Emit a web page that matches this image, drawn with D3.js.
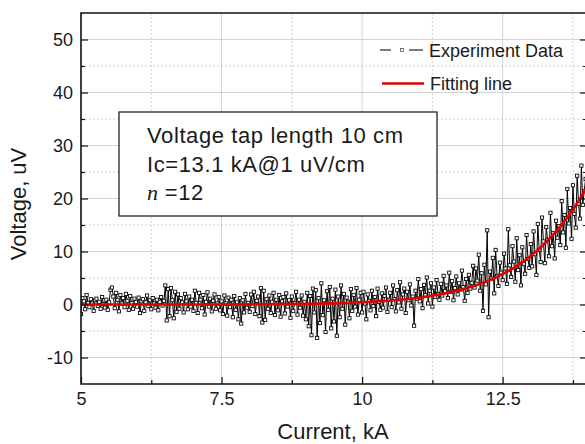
<!DOCTYPE html>
<html>
<head>
<meta charset="utf-8">
<script src="https://cdn.jsdelivr.net/npm/d3@7"></script>
<style>
  html, body { margin: 0; padding: 0; background: #fff; }
  svg { display: block; font-family: Arial, "Liberation Sans", sans-serif; }
</style>
</head>
<body>
<svg id="chart" width="585" height="444"></svg>
<script>
// ---------------- data ----------------
const currentStart = 5.0;      // kA
const currentStep = 0.025;     // kA between samples
const voltages = [
  -1.8, 1.2, 0.6, -0.9, 1.8, 0.3, -0.5, 1.0, 0.2, -1.2, 0.8, 1.1, -0.3, 0.5, -0.8, 1.4, 0.1, -0.6, 0.9, -1.0,
  0.4, 2.8, 3.2, 1.5, -0.7, 2.2, 0.9, -1.3, 1.8, 0.2, 1.2, -0.5, 2.0, 0.7, -1.0, 1.6, 0.3, -0.8, 1.1, 0.5,
  -0.4, 1.3, -1.6, 0.6, 1.0, -1.2, 0.4, 1.7, -0.3, 0.8, -0.9, 1.2, 0.2, -0.6, 0.9, -1.1, 0.5, 1.4, -0.2, 0.7,
  3.6, -3.0, 2.9, -2.2, 3.1, 0.8, -2.6, 2.4, -1.4, 1.9, -0.8, 1.2, 0.4, -1.5, 2.0, 0.6, -0.9, 1.5, -0.4, 0.9,
  -1.2, 2.6, 0.3, -1.6, 2.2, 0.9, -0.7, 1.8, -1.9, 0.5, 2.3, -0.4, 1.1, -1.3, 0.7, 1.9, -0.8, 0.2, 1.4, -1.1,
  0.6, -1.8, 1.7, 0.2, -2.1, 1.3, -0.5, 0.9, -2.4, 1.6, -1.0, 0.4, -2.8, 1.2, -3.6, 0.8, -1.5, 2.0, -0.6, 0.3,
  -1.4, 1.9, -0.3, 2.4, -1.8, 0.7, 1.5, -2.2, 3.1, -3.4, 2.6, -2.9, 1.0, -0.8, 1.7, -1.6, 0.5, 2.2, -2.0, 0.9,
  -1.1, 1.8, -2.3, 0.6, 1.4, -1.7, 2.1, -0.4, 0.8, -2.5, 1.5, -1.2, 0.3, 2.4, -1.9, 0.9, -0.6, 1.7, -2.1, 0.5,
  -2.8, 2.2, -4.1, 1.6, -5.8, 3.0, -1.5, 2.7, -6.3, 1.2, -3.5, 4.0, -2.0, 0.8, -5.2, 2.5, -1.0, 3.3, -4.5, 1.1,
  -3.2, 2.8, -5.9, 1.5, -2.4, 3.6, -0.8, 2.0, -3.8, 1.3, 0.5, -2.6, 2.9, -1.2, 1.8, -0.4, 3.1, -1.9, 0.9, 2.2,
  -1.5, 2.4, 0.2, -2.8, 1.9, 0.7, -1.1, 2.6, -0.3, 1.4, -2.2, 3.0, 0.5, -1.0, 2.1, -0.6, 1.6, 3.2, -1.4, 0.9,
  2.2, -0.5, 3.6, 1.0, -1.3, 2.7, 0.4, 4.2, -0.8, 1.9, 3.0, -1.6, 2.4, 0.8, 3.8, -0.2, 1.5, -4.0, 2.6, 1.1,
  4.8, 0.6, 2.9, -0.7, 3.7, 1.8, 5.1, 0.2, 2.6, 4.0, -0.4, 3.2, 1.4, 4.6, 2.0, 0.9, 3.9, 1.7, 5.4, 2.5,
  3.6, 1.2, 6.0, 2.4, 4.4, 0.8, 3.1, 5.3, 1.9, 4.0, 2.8, 6.4, 3.3, 0.7, 4.8, 2.2, 5.6, 3.0, 4.1, 7.3,
  3.2, 6.8, 4.5, 9.4, 2.6, 5.9, -1.2, 7.5, 3.8, 14.0, -2.4, 6.2, 4.9, 8.8, 2.1, 10.3, 5.4, 3.5, 7.9, 6.0,
  4.6, 9.6, 6.8, 3.9, 14.2, 7.4, 5.2, 11.0, 8.1, 4.3, 12.5, 6.5, 9.3, 3.6, 10.8, 7.7, 5.8, 13.1, 8.6, 6.9,
  11.4, 7.2, 13.8, 9.5, 5.6, 15.2, 10.3, 8.0, 16.4, 11.9, 7.8, 14.6, 12.2, 9.1, 17.3, 11.0, 13.5, 8.7, 15.8, 12.6,
  14.8, 11.2, 19.5, 13.6, 16.9, 10.7, 21.8, 15.3, 18.2, 12.4, 22.5, 17.1, 14.5, 24.3, 19.0, 16.2, 26.2, 18.8, 21.4, 23.7,
  20.5
];

const fitCurrents = [5, 6, 7, 8, 9, 9.5, 10, 10.5, 11, 11.5, 12, 12.25, 12.5, 12.75, 13, 13.25, 13.5, 13.75, 14];
const fitVoltages = [0, 0, 0.01, 0.03, 0.11, 0.21, 0.42, 0.75, 1.28, 2.15, 3.55, 4.5, 5.75, 7.25, 9.15, 11.5, 14.4, 17.9, 22.2];

const xMajorTicks = [5, 7.5, 10, 12.5];
const xTickLabels = ["5", "7.5", "10", "12.5"];
const xMinorTicks = [6.25, 8.75, 11.25, 13.75];
const yMajorTicks = [-10, 0, 10, 20, 30, 40, 50];
const yTickLabels = ["-10", "0", "10", "20", "30", "40", "50"];
const yMinorTicks = [-5, 5, 15, 25, 35, 45];

const legendLabels = ["Experiment Data", "Fitting line"];
const noteLines = ["Voltage tap length 10 cm", "Ic=13.1 kA@1 uV/cm"];
const noteN = ["n", " =12"];
const xTitle = "Current, kA";
const yTitle = "Voltage, uV";

// ---------------- layout ----------------
const svg = d3.select("#chart");
const pL = 81, pR = 587, pT = 13, pB = 384;
const x = d3.scaleLinear().domain([5, 14]).range([pL, pR]);
const y = d3.scaleLinear().domain([-15, 55]).range([pB, pT]);
const textColor = "#1a1a1a";

const points = voltages.map((v, i) => ({ i: currentStart + i * currentStep, v }));

svg.append("defs").append("clipPath").attr("id", "plotClip")
  .append("rect").attr("x", pL).attr("y", pT).attr("width", pR - pL).attr("height", pB - pT);

// grid
const grid = svg.append("g");
grid.selectAll(".gxm").data(xMajorTicks.slice(1)).join("line")
  .attr("x1", d => x(d)).attr("x2", d => x(d)).attr("y1", pT).attr("y2", pB)
  .attr("stroke", "#d4d4d4").attr("stroke-width", 1);
grid.selectAll(".gxn").data(xMinorTicks).join("line")
  .attr("x1", d => x(d)).attr("x2", d => x(d)).attr("y1", pT).attr("y2", pB)
  .attr("stroke", "#cfcfcf").attr("stroke-width", 1).attr("stroke-dasharray", "2,2");
grid.selectAll(".gym").data(yMajorTicks).join("line")
  .attr("x1", pL).attr("x2", pR).attr("y1", d => y(d)).attr("y2", d => y(d))
  .attr("stroke", "#d4d4d4").attr("stroke-width", 1);
grid.selectAll(".gyn").data(yMinorTicks).join("line")
  .attr("x1", pL).attr("x2", pR).attr("y1", d => y(d)).attr("y2", d => y(d))
  .attr("stroke", "#cfcfcf").attr("stroke-width", 1).attr("stroke-dasharray", "2,2");

// data
const plot = svg.append("g").attr("clip-path", "url(#plotClip)");
plot.append("path").datum(points)
  .attr("d", d3.line().x(d => x(d.i)).y(d => y(d.v)))
  .attr("fill", "none").attr("stroke", "#000").attr("stroke-width", 1);
const sq = 3.2;
plot.selectAll("rect.pt").data(points).join("rect").attr("class", "pt")
  .attr("x", d => x(d.i) - sq / 2).attr("y", d => y(d.v) - sq / 2)
  .attr("width", sq).attr("height", sq)
  .attr("fill", "#fff").attr("stroke", "#000").attr("stroke-width", 0.85);

const fitData = fitCurrents.map((c, k) => ({ c, v: fitVoltages[k] }));
plot.append("path").datum(fitData)
  .attr("d", d3.line().curve(d3.curveMonotoneX).x(d => x(d.c)).y(d => y(d.v)))
  .attr("fill", "none").attr("stroke", "#e00000").attr("stroke-width", 2.6);

// axes
function styleAxis(g) {
  g.select(".domain").remove();
  g.selectAll(".tick line").attr("stroke", "#111").attr("stroke-width", 1.2);
  g.selectAll("text").attr("fill", textColor).attr("font-size", 18)
    .attr("font-family", "Arial, 'Liberation Sans', sans-serif");
}
svg.append("g").attr("transform", `translate(0,${pB})`)
  .call(d3.axisBottom(x).tickValues(xMajorTicks).tickSizeInner(-7).tickSizeOuter(0).tickPadding(8)
    .tickFormat((d, k) => xTickLabels[k]))
  .call(styleAxis);
svg.append("g").attr("transform", `translate(0,${pB})`)
  .call(d3.axisBottom(x).tickValues(xMinorTicks).tickSizeInner(-4).tickSizeOuter(0).tickFormat(""))
  .call(styleAxis);
svg.append("g").attr("transform", `translate(${pL},0)`)
  .call(d3.axisLeft(y).tickValues(yMajorTicks).tickSizeInner(-7).tickSizeOuter(0).tickPadding(8)
    .tickFormat((d, k) => yTickLabels[k]))
  .call(styleAxis);
svg.append("g").attr("transform", `translate(${pL},0)`)
  .call(d3.axisLeft(y).tickValues(yMinorTicks).tickSizeInner(-4).tickSizeOuter(0).tickFormat(""))
  .call(styleAxis);
svg.append("g").attr("transform", `translate(${pR},0)`)
  .call(d3.axisRight(y).tickValues(yMajorTicks).tickSizeInner(-7).tickSizeOuter(0).tickFormat(""))
  .call(styleAxis);
svg.append("g").attr("transform", `translate(${pR},0)`)
  .call(d3.axisRight(y).tickValues(yMinorTicks).tickSizeInner(-4).tickSizeOuter(0).tickFormat(""))
  .call(styleAxis);

// frame
svg.append("path")
  .attr("d", `M${pR},${pT}H${pL}V${pB}H${pR}V${pT}`)
  .attr("fill", "none").attr("stroke", "#111").attr("stroke-width", 1.6);

// axis titles
svg.append("text").attr("x", 333).attr("y", 439).attr("text-anchor", "middle")
  .attr("font-size", 22).attr("fill", textColor).text(xTitle);
svg.append("text").attr("transform", "translate(26,204) rotate(-90)").attr("text-anchor", "middle")
  .attr("font-size", 22).attr("fill", textColor).text(yTitle);

// legend
const lg = svg.append("g");
lg.append("line").attr("x1", 380).attr("x2", 391).attr("y1", 50).attr("y2", 50)
  .attr("stroke", "#222").attr("stroke-width", 1.2);
lg.append("line").attr("x1", 409).attr("x2", 423).attr("y1", 50).attr("y2", 50)
  .attr("stroke", "#222").attr("stroke-width", 1.2);
lg.append("rect").attr("x", 400.5).attr("y", 48.5).attr("width", 3).attr("height", 3)
  .attr("fill", "#fff").attr("stroke", "#444").attr("stroke-width", 0.7);
lg.append("text").attr("x", 429).attr("y", 57).attr("font-size", 18).attr("fill", textColor).text(legendLabels[0]);
lg.append("line").attr("x1", 382).attr("x2", 424).attr("y1", 83.5).attr("y2", 83.5)
  .attr("stroke", "#e00000").attr("stroke-width", 2.6);
lg.append("text").attr("x", 430).attr("y", 90).attr("font-size", 18).attr("fill", textColor).text(legendLabels[1]);

// note box
const nb = svg.append("g");
nb.append("rect").attr("x", 119).attr("y", 112).attr("width", 318).attr("height", 104)
  .attr("fill", "#fff").attr("stroke", "#222").attr("stroke-width", 1.3);
nb.selectAll("text.note").data(noteLines).join("text").attr("class", "note")
  .attr("x", 147).attr("y", (d, k) => 143 + k * 28.7)
  .attr("font-size", 22).attr("letter-spacing", 0.6).attr("fill", textColor).text(d => d);
const nt = nb.append("text").attr("x", 147).attr("y", 200).attr("font-size", 22).attr("fill", textColor);
nt.append("tspan").attr("font-family", "'Liberation Serif', 'DejaVu Serif', serif").attr("font-style", "italic").text(noteN[0]);
nt.append("tspan").attr("letter-spacing", 0.6).text(noteN[1]);
</script>
</body>
</html>
